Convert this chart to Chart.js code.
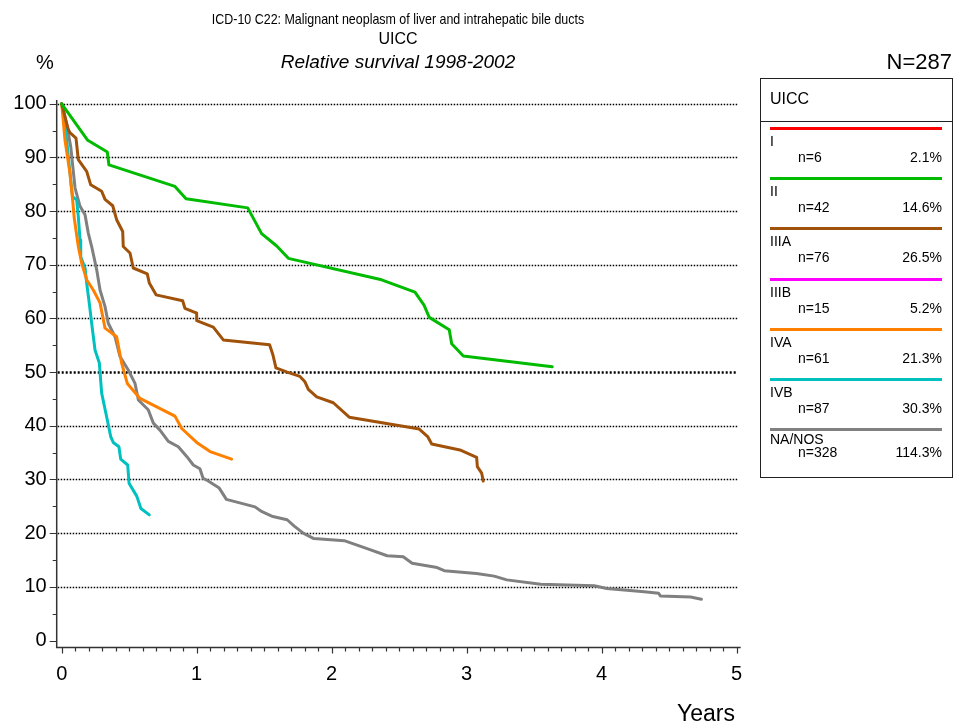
<!DOCTYPE html>
<html>
<head>
<meta charset="utf-8">
<script src="https://cdn.jsdelivr.net/npm/chart.js@4/dist/chart.umd.min.js"></script>
<style>
  body { margin: 0; background: #fff; font-family: "Liberation Sans", Arial, sans-serif; color: #000; }
  #page { position: relative; width: 953px; height: 728px; overflow: hidden; }
  #survivalChart { position: absolute; left: 0; top: 0; }
  .txt { position: absolute; white-space: nowrap; line-height: 1; }
  .c { transform: translate(-50%, -50%); }
  .r { transform: translate(-100%, -50%); }
  .l { transform: translate(0, -50%); }
  #legendBox { position: absolute; left: 760px; top: 78px; width: 191px; height: 398px; border: 1px solid #222; }
  #legendHead { position: absolute; left: 0; top: 0; width: 100%; height: 42px; border-bottom: 1px solid #222; }
  .swatch { position: absolute; left: 9px; width: 172px; height: 3px; }
</style>
</head>
<body>
<div id="page">
  <canvas id="survivalChart" width="953" height="728"></canvas>

  <div class="txt" style="left:398px; top:18px; font-size:15px; transform:translate(-50%,-50%) scaleX(0.83);">ICD-10 C22: Malignant neoplasm of liver and intrahepatic bile ducts</div>
  <div class="txt c" style="left:398px; top:39px; font-size:16px;">UICC</div>
  <div class="txt c" style="left:398px; top:61px; font-size:19px; font-style:italic;">Relative survival 1998-2002</div>
  <div class="txt c" style="left:45px; top:62px; font-size:20px;">%</div>
  <div class="txt r" style="left:952px; top:62px; font-size:22px;">N=287</div>
  <div class="txt r" style="left:735px; top:713px; font-size:23px;">Years</div>

  <div id="legendBox">
    <div id="legendHead"><div class="txt l" style="left:9px; top:20px; font-size:16px;">UICC</div></div>
  </div>
</div>

<script>
// tick labels
const X_TICKS = [0, 1, 2, 3, 4, 5];
const Y_TICKS = [0, 10, 20, 30, 40, 50, 60, 70, 80, 90, 100];
const GRID_VALUES = [10, 20, 30, 40, 50, 60, 70, 80, 90, 100];

// legend
const stageNames = ['I', 'II', 'IIIA', 'IIIB', 'IVA', 'IVB', 'NA/NOS'];
const stageCounts = [6, 42, 76, 15, 61, 87, 328];
const stagePercents = ['2.1%', '14.6%', '26.5%', '5.2%', '21.3%', '30.3%', '114.3%'];
const stageColors = ['#ff0000', '#00bb00', '#a0520a', '#ff00ff', '#ff8000', '#00c0c0', '#808080'];

// relative survival curves (years, %)
const yearsII = [0, 0.193, 0.338, 0.35, 0.839, 0.921, 1.378, 1.481, 1.593, 1.679, 2.37, 2.617, 2.684, 2.723, 2.871, 2.889, 2.975, 3.634];
const survII  = [100, 93.2, 91.0, 88.6, 84.6, 82.3, 80.6, 75.8, 73.5, 71.2, 67.2, 64.9, 62.5, 60.2, 57.9, 55.3, 53.0, 51.0];

const yearsIIIA = [0, 0.049, 0.061, 0.106, 0.123, 0.185, 0.215, 0.296, 0.321, 0.378, 0.407, 0.452, 0.456, 0.506, 0.53, 0.634, 0.649, 0.699, 0.896, 0.913, 1.0, 1.0, 1.123, 1.197, 1.54, 1.565, 1.587, 1.67, 1.765, 1.802, 1.827, 1.889, 2.012, 2.13, 2.649, 2.711, 2.741, 2.95, 3.074, 3.079, 3.111, 3.123];
const survIIIA  = [100, 95.2, 94.6, 93.6, 89.6, 87.4, 84.9, 83.7, 82.2, 81.0, 78.4, 76.2, 73.4, 72.2, 69.4, 68.3, 66.6, 64.4, 63.3, 61.9, 61.0, 59.6, 58.4, 56.0, 55.1, 53.2, 50.8, 50.0, 49.2, 48.2, 46.8, 45.4, 44.3, 41.6, 39.4, 38.0, 36.6, 35.5, 34.1, 32.4, 31.2, 29.7];

const yearsIVA = [0, 0.012, 0.024, 0.061, 0.081, 0.093, 0.123, 0.148, 0.185, 0.234, 0.284, 0.321, 0.407, 0.444, 0.486, 0.58, 0.839, 0.889, 1.0, 1.099, 1.259];
const survIVA  = [100, 96.7, 93.3, 87.1, 82.1, 78.7, 73.4, 70.3, 67.2, 65.3, 62.9, 58.2, 56.6, 51.7, 47.9, 45.1, 41.8, 39.5, 36.9, 35.2, 33.8];

const yearsIVB = [0, 0.024, 0.049, 0.074, 0.081, 0.111, 0.123, 0.136, 0.141, 0.173, 0.185, 0.204, 0.222, 0.247, 0.279, 0.296, 0.333, 0.363, 0.382, 0.424, 0.437, 0.489, 0.499, 0.556, 0.587, 0.649];
const survIVB  = [100, 96.4, 90.2, 84.0, 82.7, 82.1, 79.0, 74.6, 71.5, 69.4, 66.6, 62.9, 59.1, 54.1, 51.7, 46.1, 41.7, 38.0, 36.9, 36.1, 33.8, 32.7, 29.3, 26.9, 24.6, 23.4];

const yearsNOS = [0, 0.012, 0.049, 0.067, 0.081, 0.099, 0.136, 0.173, 0.197, 0.222, 0.259, 0.284, 0.321, 0.345, 0.395, 0.432, 0.493, 0.543, 0.568, 0.641, 0.679, 0.728, 0.79, 0.864, 0.926, 0.975, 1.024, 1.048, 1.074, 1.167, 1.22, 1.326, 1.432, 1.484, 1.564, 1.67, 1.723, 1.789, 1.868, 2.093, 2.252, 2.411, 2.53, 2.596, 2.781, 2.834, 3.072, 3.204, 3.297, 3.548, 3.945, 4.038, 4.316, 4.422, 4.435, 4.659, 4.739];
const survNOS  = [100, 98.9, 94.5, 92.0, 88.6, 84.3, 80.9, 79.3, 75.9, 73.4, 69.1, 65.3, 62.2, 59.1, 56.6, 52.9, 50.4, 47.9, 44.8, 43.0, 40.5, 39.2, 37.1, 36.1, 34.3, 32.7, 32.0, 30.2, 29.9, 28.4, 26.3, 25.6, 24.9, 24.0, 23.1, 22.5, 21.3, 20.0, 19.0, 18.6, 17.2, 15.8, 15.6, 14.4, 13.6, 13.0, 12.5, 12.0, 11.3, 10.5, 10.2, 9.7, 9.1, 8.8, 8.3, 8.1, 7.7];

const FONT = '"Liberation Sans", Arial, sans-serif';

function toPoints(xs, ys) {
    return xs.map((x, i) => ({ x: x, y: ys[i] }));
}

// build the legend box
const legendBox = document.getElementById('legendBox');
stageNames.forEach((name, i) => {
    const top = 48 + i * 50.2;
    const last = i === stageNames.length - 1;
    const sw = document.createElement('div');
    sw.className = 'swatch';
    sw.style.top = top + 'px';
    sw.style.background = stageColors[i];
    legendBox.appendChild(sw);

    const nameEl = document.createElement('div');
    nameEl.className = 'txt l';
    nameEl.style.cssText = `left:9px; top:${top + (last ? 11 : 14)}px; font-size:14px;`;
    nameEl.innerText = name;
    legendBox.appendChild(nameEl);

    const nEl = document.createElement('div');
    nEl.className = 'txt l';
    nEl.style.cssText = `left:37px; top:${top + (last ? 24 : 30)}px; font-size:14px;`;
    nEl.innerText = 'n=' + stageCounts[i];
    legendBox.appendChild(nEl);

    const pEl = document.createElement('div');
    pEl.className = 'txt r';
    pEl.style.cssText = `left:181px; top:${top + (last ? 24 : 30)}px; font-size:14px;`;
    pEl.innerText = stagePercents[i];
    legendBox.appendChild(pEl);
});

// dotted grid, axis lines and tick marks
const axisDecor = {
    id: 'axisDecor',
    beforeDatasetsDraw(chart) {
        const { ctx, chartArea, scales: { x, y } } = chart;
        ctx.save();
        ctx.strokeStyle = '#000';
        GRID_VALUES.forEach(v => {
            const py = Math.round(y.getPixelForValue(v)) + 0.5;
            ctx.lineWidth = v === 50 ? 2.5 : 1.5;
            ctx.setLineDash(v === 50 ? [2, 2] : [1.5, 1.5]);
            ctx.beginPath();
            ctx.moveTo(chartArea.left + 1, py);
            ctx.lineTo(chartArea.right - 3, py);
            ctx.stroke();
        });
        ctx.restore();
    },
    afterDraw(chart) {
        const { ctx, chartArea, scales: { x, y } } = chart;
        ctx.save();
        ctx.strokeStyle = '#333';
        ctx.lineWidth = 1.5;
        ctx.beginPath();
        ctx.moveTo(chartArea.left, chartArea.top);
        ctx.lineTo(chartArea.left, chartArea.bottom);
        ctx.lineTo(chartArea.right, chartArea.bottom);
        ctx.stroke();

        ctx.lineWidth = 1.2;
        ctx.beginPath();
        for (let v = 0; v <= 100; v += 5) {
            const py = Math.round(y.getPixelForValue(v)) + 0.5;
            const len = v % 10 === 0 ? 7 : 4;
            ctx.moveTo(chartArea.left, py);
            ctx.lineTo(chartArea.left - len, py);
        }
        for (let k = 0; k <= 50; k++) {
            const px = Math.round(x.getPixelForValue(k / 10)) + 0.5;
            const len = k % 10 === 0 ? 6 : 4;
            ctx.moveTo(px, chartArea.bottom);
            ctx.lineTo(px, chartArea.bottom + len);
        }
        ctx.stroke();
        ctx.restore();
    }
};

const ctx = document.getElementById('survivalChart').getContext('2d');
const survivalChart = new Chart(ctx, {
    type: 'line',
    data: {
        datasets: [
            { label: 'II', data: toPoints(yearsII, survII), borderColor: stageColors[1] },
            { label: 'IIIA', data: toPoints(yearsIIIA, survIIIA), borderColor: stageColors[2] },
            { label: 'IVA', data: toPoints(yearsIVA, survIVA), borderColor: stageColors[4] },
            { label: 'IVB', data: toPoints(yearsIVB, survIVB), borderColor: stageColors[5] },
            { label: 'NA/NOS', data: toPoints(yearsNOS, survNOS), borderColor: stageColors[6] }
        ]
    },
    options: {
        responsive: false,
        animation: false,
        layout: { padding: { top: 100, right: 212.3, left: 0, bottom: 0 } },
        elements: {
            point: { radius: 0 },
            line: { borderWidth: 3, tension: 0, borderJoinStyle: 'round', borderCapStyle: 'round' }
        },
        plugins: { legend: { display: false }, tooltip: { enabled: false } },
        scales: {
            x: {
                type: 'linear',
                min: -0.037,
                max: 5.03,
                afterBuildTicks: s => { s.ticks = X_TICKS.map(v => ({ value: v })); },
                afterFit: s => { s.height = 80.5; },
                grid: { display: false },
                border: { display: false },
                ticks: { color: '#000', font: { family: FONT, size: 20 }, padding: 7, maxRotation: 0 }
            },
            y: {
                min: -1.3,
                max: 100.7,
                afterBuildTicks: s => { s.ticks = Y_TICKS.map(v => ({ value: v })); },
                afterFit: s => { s.width = 56.7; },
                grid: { display: false },
                border: { display: false },
                ticks: { color: '#000', font: { family: FONT, size: 20 }, padding: 2 }
            }
        }
    },
    plugins: [axisDecor]
});
</script>
</body>
</html>
